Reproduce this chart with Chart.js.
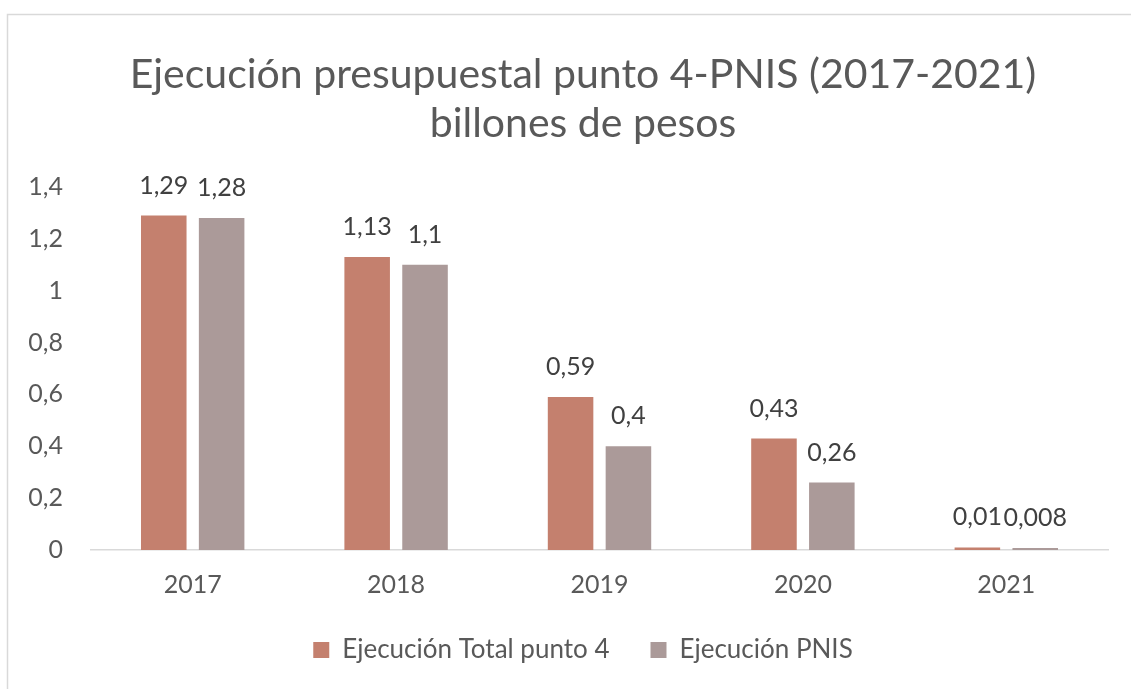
<!DOCTYPE html>
<html>
<head>
<meta charset="utf-8">
<script src="https://cdn.jsdelivr.net/npm/chart.js@4.4.0/dist/chart.umd.min.js"></script>
<style>
  html, body { margin: 0; padding: 0; background: #fff; overflow: hidden; }
  #wrap { position: absolute; left: 0; top: 0; width: 1166px; height: 689px; }
</style>
</head>
<body>
<div id="wrap"><canvas id="budgetChart" width="1166" height="689"></canvas></div>
<script>
const years = ['2017', '2018', '2019', '2020', '2021'];
const totalPoint4 = [1.29, 1.13, 0.59, 0.43, 0.01];
const pnis = [1.28, 1.1, 0.4, 0.26, 0.008];
const seriesNames = ['Ejecución Total punto 4', 'Ejecución PNIS'];
const titleLines = ['Ejecución presupuestal punto 4-PNIS (2017-2021)', 'billones de pesos'];

const FONT = 'Lato';
const toComma = v => String(v).replace('.', ',');

// Light frame around the whole chart
const framePlugin = {
    id: 'frame',
    beforeDraw(chart) {
        const c = chart.ctx;
        c.save();
        c.fillStyle = '#fff';
        c.fillRect(0, 0, chart.width, chart.height);
        c.strokeStyle = '#d9d9d9';
        c.lineWidth = 1.5;
        c.strokeRect(7.5, 14.5, chart.width - 15, 700);
        c.restore();
    }
};

// Value labels above each bar
const valueLabels = {
    id: 'valueLabels',
    afterDatasetsDraw(chart) {
        const c = chart.ctx;
        c.save();
        c.font = '25px ' + FONT;
        c.fillStyle = '#404040';
        c.textAlign = 'center';
        c.textBaseline = 'middle';
        chart.data.datasets.forEach((ds, i) => {
            chart.getDatasetMeta(i).data.forEach((bar, j) => {
                c.fillText(toComma(ds.data[j]), bar.x, bar.y - 30);
            });
        });
        c.restore();
    }
};

const ctx = document.getElementById('budgetChart').getContext('2d');
new Chart(ctx, {
    type: 'bar',
    data: {
        labels: years,
        datasets: [{
            label: seriesNames[0],
            data: totalPoint4,
            backgroundColor: '#c4806e',
            categoryPercentage: 0.569,
            barPercentage: 0.787
        }, {
            label: seriesNames[1],
            data: pnis,
            backgroundColor: '#ab9a99',
            categoryPercentage: 0.569,
            barPercentage: 0.787
        }]
    },
    options: {
        responsive: false,
        animation: false,
        layout: {
            padding: { left: 20, right: 20, top: 0, bottom: 16 }
        },
        plugins: {
            title: {
                display: true,
                text: titleLines,
                color: '#595959',
                font: { family: FONT, size: 41, weight: 'normal', lineHeight: 1.195 },
                padding: { top: 50.5, bottom: 38.5 }
            },
            legend: {
                position: 'bottom',
                labels: {
                    color: '#595959',
                    font: { family: FONT, size: 26 },
                    boxWidth: 16,
                    boxHeight: 16,
                    padding: 41
                }
            },
            tooltip: { enabled: false }
        },
        scales: {
            x: {
                grid: { display: false, drawTicks: false },
                border: { color: '#d9d9d9', width: 1.5 },
                ticks: {
                    color: '#595959',
                    font: { family: FONT, size: 25, lineHeight: 1.0 },
                    padding: 22.5
                },
                afterFit(scale) { scale.height = 46; }
            },
            y: {
                min: 0,
                max: 1.4,
                grid: { display: false, drawTicks: false },
                border: { display: false },
                ticks: {
                    stepSize: 0.2,
                    color: '#595959',
                    font: { family: FONT, size: 25 },
                    padding: 28,
                    callback: v => toComma(Math.round(v * 10) / 10)
                },
                afterFit(scale) { scale.width = 71; }
            },
            // empty right-hand axis, only reserves room so the plot ends where the original does
            yRight: {
                position: 'right',
                min: 0,
                max: 1.4,
                grid: { display: false, drawTicks: false },
                border: { display: false },
                ticks: { display: false },
                afterFit(scale) { scale.width = 38; }
            }
        }
    },
    plugins: [framePlugin, valueLabels]
});
</script>
</body>
</html>
